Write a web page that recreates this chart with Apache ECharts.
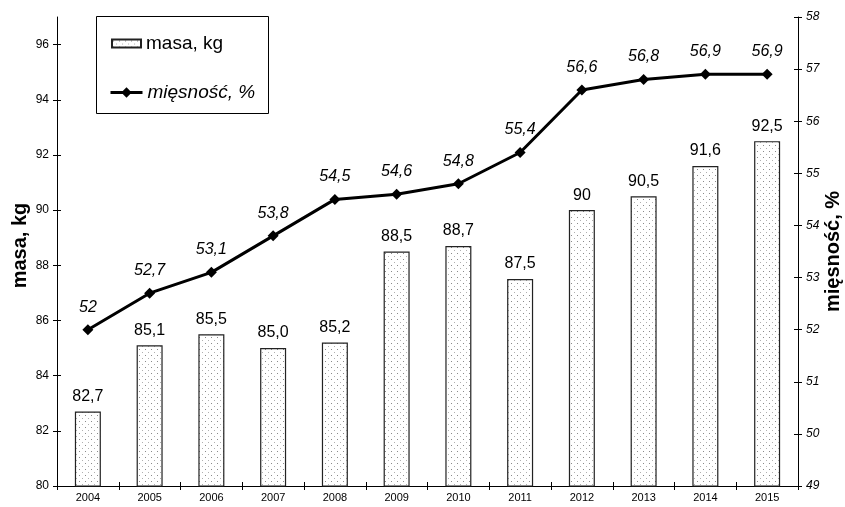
<!DOCTYPE html>
<html>
<head>
<meta charset="utf-8">
<script src="https://cdn.jsdelivr.net/npm/echarts@6/dist/echarts.min.js"></script>
<style>
  html, body { margin: 0; padding: 0; background: #fff; }
  #chart { width: 845px; height: 507px; }
</style>
</head>
<body>
<div id="chart"></div>
<script>
// Years on the category axis
const years = ['2004', '2005', '2006', '2007', '2008', '2009', '2010', '2011', '2012', '2013', '2014', '2015'];
// Carcass weight, kg (kept as written so labels keep their precision, e.g. "85,0" and "90")
const masa = ['82.7', '85.1', '85.5', '85.0', '85.2', '88.5', '88.7', '87.5', '90', '90.5', '91.6', '92.5'];
// Lean meat content, %
const miesnosc = ['52', '52.7', '53.1', '53.8', '54.5', '54.6', '54.8', '55.4', '56.6', '56.8', '56.9', '56.9'];
// Tick values on both value axes
const leftTicks = [80, 82, 84, 86, 88, 90, 92, 94, 96];
const rightTicks = [49, 50, 51, 52, 53, 54, 55, 56, 57, 58];

const FONT = '"Liberation Sans", Arial, sans-serif';

// Dotted fill for the bars
function dotPattern() {
  const c = document.createElement('canvas');
  c.width = 6; c.height = 6;
  const g = c.getContext('2d');
  g.fillStyle = '#ffffff';
  g.fillRect(0, 0, 6, 6);
  g.fillStyle = '#8a8a8a';
  g.fillRect(1, 1, 1, 1);
  g.fillStyle = '#b0b0b0';
  g.fillRect(4, 4, 1, 1);
  return c;
}
const barFill = { image: dotPattern(), repeat: 'repeat' };

const comma = s => String(s).replace('.', ',');

const chart = echarts.init(document.getElementById('chart'), null, { renderer: 'canvas' });

function valueAxis(base, extra) {
  return Object.assign({
    type: 'value',
    splitLine: { show: false },
    nameMoveOverlap: false,
    axisLine: { show: true, lineStyle: { color: '#000', width: 1 } }
  }, base, extra);
}

const legendText = { fontFamily: FONT, fontSize: 19, color: '#000' };

chart.setOption({
  backgroundColor: '#ffffff',
  animation: false,
  textStyle: { fontFamily: FONT, color: '#000' },
  grid: { left: 57, right: 47, top: 17, bottom: 21, containLabel: false, outerBoundsMode: 'none' },
  graphic: [{
    type: 'rect',
    left: 96, top: 16,
    shape: { width: 172, height: 97 },
    style: { fill: '#fff', stroke: '#000', lineWidth: 1 },
    z: 1
  }],
  legend: [{
    left: 111, top: 34,
    itemWidth: 29, itemHeight: 8,
    itemGap: 4,
    padding: 0,
    z: 10,
    icon: 'rect',
    textStyle: legendText,
    data: [{ name: 'masa, kg' }]
  }, {
    left: 109, top: 83,
    itemWidth: 32, itemHeight: 13,
    itemGap: 3,
    padding: 0,
    z: 10,
    lineStyle: { width: 3, color: '#000' },
    textStyle: Object.assign({}, legendText, { fontStyle: 'italic' }),
    data: [{ name: 'mięsność, %' }]
  }],
  xAxis: [{
    type: 'category',
    data: years,
    boundaryGap: true,
    axisLine: { lineStyle: { color: '#000', width: 1 } },
    axisTick: { show: true, alignWithLabel: false, length: 4, inside: false, lineStyle: { color: '#000' } },
    axisLabel: { fontFamily: FONT, fontSize: 11, color: '#000', margin: 6 }
  }, {
    type: 'category',
    data: years,
    position: 'bottom',
    boundaryGap: true,
    axisLine: { show: false },
    axisTick: { show: true, alignWithLabel: false, length: 4, inside: true, lineStyle: { color: '#000' } },
    axisLabel: { show: false }
  }],
  yAxis: [
    valueAxis({ min: 80, max: 97, interval: 2, position: 'left' }, {
      name: 'masa, kg',
      nameLocation: 'middle',
      nameGap: 27,
      nameRotate: 90,
      nameTextStyle: { fontFamily: FONT, fontSize: 20, fontWeight: 'bold', color: '#000', padding: [0, 0, 0, 12] },
      axisTick: { show: true, length: 4, inside: false, customValues: leftTicks, lineStyle: { color: '#000' } },
      axisLabel: { fontFamily: FONT, fontSize: 12, color: '#000', margin: 8, customValues: leftTicks }
    }),
    valueAxis({ min: 80, max: 97, interval: 2, position: 'left' }, {
      axisLine: { show: false },
      axisTick: { show: true, length: 4, inside: true, customValues: leftTicks, lineStyle: { color: '#000' } },
      axisLabel: { show: false }
    }),
    valueAxis({ min: 49, max: 58, interval: 1, position: 'right' }, {
      name: 'mięsność, %',
      nameLocation: 'middle',
      nameGap: 25,
      nameRotate: 90,
      nameTextStyle: { fontFamily: FONT, fontSize: 20, fontWeight: 'bold', color: '#000' },
      axisTick: { show: true, length: 4, inside: false, customValues: rightTicks, lineStyle: { color: '#000' } },
      axisLabel: { fontFamily: FONT, fontSize: 12, fontStyle: 'italic', color: '#000', margin: 8, customValues: rightTicks }
    }),
    valueAxis({ min: 49, max: 58, interval: 1, position: 'right' }, {
      axisLine: { show: false },
      axisTick: { show: true, length: 4, inside: true, customValues: rightTicks, lineStyle: { color: '#000' } },
      axisLabel: { show: false }
    })
  ],
  series: [{
    name: 'masa, kg',
    type: 'bar',
    xAxisIndex: 0,
    yAxisIndex: 0,
    data: masa.map(Number),
    barWidth: 26,
    itemStyle: { color: barFill, borderColor: '#222', borderWidth: 1.2 },
    label: {
      show: true,
      position: 'top',
      distance: 7,
      fontFamily: FONT,
      fontSize: 16,
      color: '#000',
      formatter: p => comma(masa[p.dataIndex])
    },
    z: 2
  }, {
    name: 'mięsność, %',
    type: 'line',
    xAxisIndex: 0,
    yAxisIndex: 2,
    data: miesnosc.map(Number),
    symbol: 'diamond',
    symbolSize: 11,
    lineStyle: { color: '#000', width: 3 },
    itemStyle: { color: '#000' },
    label: {
      show: true,
      position: 'top',
      distance: 9,
      fontFamily: FONT,
      fontSize: 16,
      fontStyle: 'italic',
      color: '#000',
      formatter: p => comma(miesnosc[p.dataIndex])
    },
    z: 5
  }]
});
</script>
</body>
</html>
